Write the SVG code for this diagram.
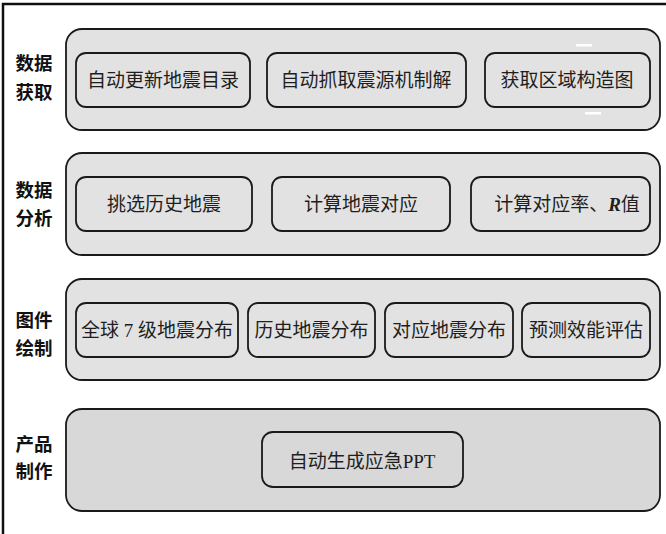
<svg xmlns="http://www.w3.org/2000/svg" width="666" height="534" viewBox="0 0 666 534">
<style>
.frame{stroke:#111;stroke-width:2.5;fill:none}
.outer{fill:#e2e2e2;stroke:#1a1a1a;stroke-width:1.8}
.outer4{fill:#d8d8d8;stroke:#1a1a1a;stroke-width:1.8}
.inner{fill:none;stroke:#1a1a1a;stroke-width:1.8}
.lbl{font-family:"Noto Sans CJK SC","Noto Sans",sans-serif;font-weight:bold;font-size:18.5px;fill:#111;text-anchor:middle}
.t{font-family:"Liberation Serif","Noto Sans CJK SC",serif;font-size:19px;fill:#1e1e1e;text-anchor:middle;dominant-baseline:central}
</style>
<rect width="666" height="534" fill="#fff"/>
<path class="frame" d="M3,534 V4 H666"/>
<g id="row1">
<rect class="outer" x="66" y="29" width="594" height="101" rx="16"/>
<text class="lbl" x="34" y="70">数据</text>
<text class="lbl" x="34" y="99">获取</text>
<g id="n1_1"><rect class="inner" x="76" y="53" width="174" height="54" rx="10"/><text class="t" x="163" y="80">自动更新地震目录</text></g>
<g id="n1_2"><rect class="inner" x="267" y="53" width="199" height="54" rx="10"/><text class="t" x="366" y="80">自动抓取震源机制解</text></g>
<g id="n1_3"><rect class="inner" x="485" y="53" width="165" height="54" rx="10"/><text class="t" x="567" y="80">获取区域构造图</text></g>
<rect x="576" y="44" width="16" height="2.5" fill="#fff"/>
<rect x="585" y="112" width="16" height="2.5" fill="#fff"/>
</g>
<g id="row2">
<rect class="outer" x="66" y="153" width="594" height="102" rx="16"/>
<text class="lbl" x="34" y="197">数据</text>
<text class="lbl" x="34" y="225">分析</text>
<g id="n2_1"><rect class="inner" x="76" y="177" width="176" height="54" rx="10"/><text class="t" x="164" y="204">挑选历史地震</text></g>
<g id="n2_2"><rect class="inner" x="272" y="177" width="178" height="54" rx="10"/><text class="t" x="361" y="204">计算地震对应</text></g>
<g id="n2_3"><rect class="inner" x="471" y="177" width="179" height="54" rx="10"/><text class="t" x="567" y="204">计算对应率、<tspan font-style="italic" font-weight="bold">R</tspan>值</text></g>
</g>
<g id="row3">
<rect class="outer" x="66" y="279" width="594" height="101" rx="16"/>
<text class="lbl" x="34" y="327">图件</text>
<text class="lbl" x="34" y="355">绘制</text>
<g id="n3_1"><rect class="inner" x="76" y="303" width="162" height="54" rx="10"/><text class="t" x="157" y="330">全球 7 级地震分布</text></g>
<g id="n3_2"><rect class="inner" x="248" y="303" width="127" height="54" rx="10"/><text class="t" x="311.5" y="330">历史地震分布</text></g>
<g id="n3_3"><rect class="inner" x="385" y="303" width="128" height="54" rx="10"/><text class="t" x="449" y="330">对应地震分布</text></g>
<g id="n3_4"><rect class="inner" x="522" y="303" width="128" height="54" rx="10"/><text class="t" x="586" y="330">预测效能评估</text></g>
</g>
<g id="row4">
<rect class="outer4" x="66" y="409" width="594" height="102" rx="16"/>
<text class="lbl" x="34" y="451">产品</text>
<text class="lbl" x="34" y="478">制作</text>
<g id="n4_1"><rect class="inner" x="262" y="432" width="201" height="55" rx="11"/><text class="t" x="362" y="461">自动生成应急PPT</text></g>
</g>
<g id="connectors"/>
</svg>
